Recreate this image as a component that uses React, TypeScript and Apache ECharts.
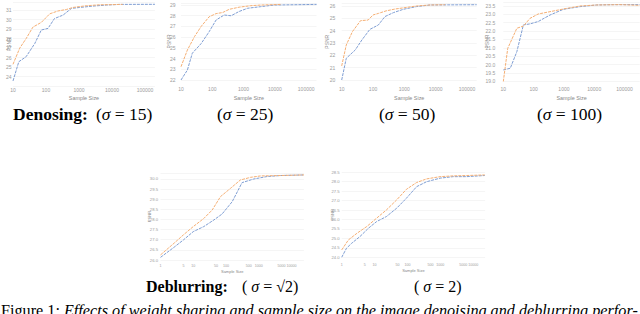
import React, { useEffect, useRef } from "react";
import * as echarts from "echarts";

// ---- Data (sample size, PSNR) ----
// Denoising sigma = 15
const d15BlueN = [10, 15, 25, 46, 72, 115, 180, 330, 590, 1050, 2600, 6800, 17000, 200000];
const d15BlueV = [23.55, 25.57, 26.1, 27.5, 28.9, 29.07, 30.1, 30.47, 31.17, 31.27, 31.41, 31.52, 31.59, 31.6];
const d15OrangeN = [10, 16, 25, 40, 72, 130, 230, 420, 660, 1660, 4300, 21000];
const d15OrangeV = [25.3, 27.0, 28.0, 29.2, 29.7, 30.6, 30.9, 31.06, 31.27, 31.45, 31.55, 31.59];
// Denoising sigma = 25
const d25BlueN = [10, 16, 23, 44, 79, 132, 240, 400, 720, 1350, 3550, 9550, 215000];
const d25BlueV = [22.0, 22.93, 24.5, 25.4, 26.5, 27.6, 28.07, 28.0, 28.4, 28.7, 28.85, 29.0, 29.06];
const d25OrangeN = [10, 16, 27, 44, 79, 132, 214, 347, 720, 1700, 3550, 15500];
const d25OrangeV = [23.24, 24.8, 26.05, 27.0, 27.9, 28.2, 28.3, 28.6, 28.8, 28.94, 29.0, 29.06];
// Denoising sigma = 50
const d50BlueN = [10, 14, 27, 44, 79, 148, 240, 447, 933, 2455, 6607, 204000];
const d50BlueV = [20.0, 21.76, 22.43, 23.24, 24.1, 24.46, 25.14, 25.46, 25.73, 25.95, 26.08, 26.1];
const d50OrangeN = [10, 14, 22, 40, 70, 100, 150, 260, 500, 950, 2455, 6607, 20000];
const d50OrangeV = [21.14, 22.84, 23.92, 24.81, 24.86, 25.27, 25.4, 25.6, 25.75, 25.85, 26.0, 26.08, 26.1];
// Denoising sigma = 100
const d100BlueN = [10, 17, 28, 46, 76, 141, 347, 955, 3388, 12000, 42700, 316000];
const d100BlueV = [19.68, 19.78, 20.77, 22.37, 22.43, 22.57, 22.96, 23.3, 23.46, 23.56, 23.58, 23.58];
const d100OrangeN = [10, 14, 28, 46, 76, 141, 347, 955, 3388, 12000, 70800, 316000];
const d100OrangeV = [18.98, 20.97, 22.17, 22.3, 22.76, 23.02, 23.16, 23.32, 23.5, 23.56, 23.58, 23.54];
// Deblurring sigma = sqrt(2)
const bsBlueN = [1, 2.6, 5, 10, 21, 43, 76, 155, 310, 710, 1800, 4600, 24000];
const bsBlueV = [26.13, 26.63, 26.99, 27.4, 27.65, 27.98, 28.27, 28.88, 29.82, 30.0, 30.12, 30.17, 30.2];
const bsOrangeN = [1, 2.6, 5, 10, 21, 38, 68, 138, 275, 560, 1120, 4600, 24000];
const bsOrangeV = [26.25, 26.83, 27.24, 27.65, 28.05, 28.47, 29.13, 29.54, 29.95, 30.08, 30.15, 30.17, 30.2];
// Deblurring sigma = 2
const b2BlueN = [1, 1.4, 2, 3.6, 6.5, 11.5, 23, 47, 93, 190, 380, 980, 2450, 6300, 22400];
const b2BlueV = [24.0, 24.48, 24.74, 25.1, 25.54, 25.89, 26.16, 26.6, 27.13, 27.74, 28.0, 28.19, 28.27, 28.27, 28.33];
const b2OrangeN = [1, 1.6, 2.9, 5.8, 11.5, 23, 47, 93, 190, 380, 980, 2450, 6300, 22400];
const b2OrangeV = [24.39, 24.92, 25.27, 25.63, 26.07, 26.51, 27.04, 27.6, 27.96, 28.15, 28.27, 28.31, 28.33, 28.36];

// tick labels
const denoiseXTicks = [10, 100, 1000, 10000, 100000];
const deblurXTicks = [1, 5, 10, 50, 100, 500, 1000, 5000, 10000];

const BLUE = "#7F9ED3";
const ORANGE = "#F5AF74";
const SANS = "Liberation Sans, Arial, sans-serif";
const SERIF = "Liberation Serif, Times New Roman, serif";
const LABEL = "#9c9c9c";

type Cfg = {
  left: number; top: number; width: number; height: number;
  xMin: number; xMax: number; xTicks: number[]; xFont: number; yFont: number;
  yMin: number; yMax: number; yInt: number; yDec: number;
  hideYMin: boolean; hideYMax: boolean;
  yLabelMargin: number; xLabelMargin: number; yNameGap: number; xNameGap: number;
  bN: number[]; bV: number[]; oN: number[]; oV: number[];
};

const charts: Cfg[] = [
  { left: 13, top: 2.4, width: 141.9, height: 83.8, xMin: 1, xMax: 5.3, xTicks: denoiseXTicks, xFont: 5, yFont: 5,
    yMin: 23, yMax: 31.8, yInt: 1, yDec: 0, hideYMin: true, hideYMax: true,
    yLabelMargin: 1.5, xLabelMargin: 1, yNameGap: 2, xNameGap: 9,
    bN: d15BlueN, bV: d15BlueV, oN: d15OrangeN, oV: d15OrangeV },
  { left: 181, top: 2.9, width: 135.5, height: 77.1, xMin: 1, xMax: 5.33, xTicks: denoiseXTicks, xFont: 5, yFont: 5,
    yMin: 22, yMax: 29.2, yInt: 1, yDec: 0, hideYMin: false, hideYMax: true,
    yLabelMargin: 5.5, xLabelMargin: 6, yNameGap: 10, xNameGap: 15.5,
    bN: d25BlueN, bV: d25BlueV, oN: d25OrangeN, oV: d25OrangeV },
  { left: 341.7, top: 3.5, width: 135, height: 76.5, xMin: 1, xMax: 5.31, xTicks: denoiseXTicks, xFont: 5, yFont: 5,
    yMin: 20, yMax: 26.2, yInt: 1, yDec: 0, hideYMin: false, hideYMax: true,
    yLabelMargin: 6.5, xLabelMargin: 6, yNameGap: 12, xNameGap: 15.5,
    bN: d50BlueN, bV: d50BlueV, oN: d50OrangeN, oV: d50OrangeV },
  { left: 503.3, top: 1.8, width: 136.4, height: 79.5, xMin: 1, xMax: 5.5, xTicks: denoiseXTicks, xFont: 5, yFont: 5,
    yMin: 19, yMax: 23.75, yInt: 0.5, yDec: 1, hideYMin: false, hideYMax: true,
    yLabelMargin: 8, xLabelMargin: 5, yNameGap: 13.5, xNameGap: 14,
    bN: d100BlueN, bV: d100BlueV, oN: d100OrangeN, oV: d100OrangeV },
  { left: 160.5, top: 172.9, width: 143.4, height: 87.1, xMin: 0, xMax: 4.38, xTicks: deblurXTicks, xFont: 3.6, yFont: 4.2,
    yMin: 26, yMax: 30.3, yInt: 0.5, yDec: 1, hideYMin: false, hideYMax: true,
    yLabelMargin: 2.5, xLabelMargin: 4, yNameGap: 9, xNameGap: 9,
    bN: bsBlueN, bV: bsBlueV, oN: bsOrangeN, oV: bsOrangeV },
  { left: 341.7, top: 172.3, width: 143.4, height: 85, xMin: 0, xMax: 4.36, xTicks: deblurXTicks, xFont: 3.6, yFont: 4.2,
    yMin: 24, yMax: 28.5, yInt: 0.5, yDec: 1, hideYMin: false, hideYMax: false,
    yLabelMargin: 2, xLabelMargin: 6, yNameGap: 7.5, xNameGap: 11,
    bN: b2BlueN, bV: b2BlueV, oN: b2OrangeN, oV: b2OrangeV },
];

function rich(size: number) {
  return { i: { fontStyle: "italic", fontFamily: SERIF, fontSize: size, fill: "#000" } };
}

function buildOption() {
  const grid: any[] = [];
  const xAxis: any[] = [];
  const yAxis: any[] = [];
  const series: any[] = [];
  charts.forEach((c, i) => {
    grid.push({ left: c.left, top: c.top, width: c.width, height: c.height, containLabel: false });
    xAxis.push({
      type: "value", gridIndex: i, min: c.xMin, max: c.xMax,
      name: "Sample Size", nameLocation: "middle", nameGap: c.xNameGap, nameMoveOverlap: false,
      nameTextStyle: { fontSize: c.xFont + 0.4, color: "#888", fontFamily: SANS },
      axisLine: { show: false }, axisTick: { show: false }, splitLine: { show: false },
      axisLabel: {
        fontSize: c.xFont, color: LABEL, fontFamily: SANS, margin: c.xLabelMargin,
        interval: 0, hideOverlap: false,
        customValues: c.xTicks.map((t) => Math.log10(t)),
        formatter: (v: number) => String(Math.round(Math.pow(10, v))),
      },
    });
    yAxis.push({
      type: "value", gridIndex: i, min: c.yMin, max: c.yMax, interval: c.yInt,
      name: "PSNR", nameLocation: "middle", nameGap: c.yNameGap, nameRotate: 90, nameMoveOverlap: false,
      nameTextStyle: { fontSize: c.yFont, color: "#888", fontFamily: SANS },
      axisLine: { show: false }, axisTick: { show: false },
      splitLine: { show: true, lineStyle: { color: "#eeeeee", width: 0.6 } },
      axisLabel: {
        fontSize: c.yFont, color: LABEL, fontFamily: SANS, margin: c.yLabelMargin,
        showMinLabel: !c.hideYMin, showMaxLabel: !c.hideYMax,
        formatter: (v: number) => v.toFixed(c.yDec),
      },
    });
    series.push({
      type: "line", xAxisIndex: i, yAxisIndex: i, showSymbol: false, silent: true,
      data: c.bN.map((n, k) => [Math.log10(n), c.bV[k]]),
      lineStyle: { color: BLUE, width: 1, type: [3, 1] },
    });
    series.push({
      type: "line", xAxisIndex: i, yAxisIndex: i, showSymbol: false, silent: true,
      data: c.oN.map((n, k) => [Math.log10(n), c.oV[k]]),
      lineStyle: { color: ORANGE, width: 1, type: [3, 1] },
    });
  });

  const txt = (x: number, y: number, text: string, size: number, extra: any = {}) => ({
    type: "text", x, y, silent: true,
    style: {
      text, fontFamily: SERIF, fontSize: size, fill: "#000",
      textVerticalAlign: "middle", rich: rich(size), ...extra,
    },
  });

  const graphic = [
    txt(13, 114, "Denosing:", 17.5, { fontWeight: "bold" }),
    txt(96, 114, "({i|σ} = 15)", 17.5),
    txt(217, 114, "({i|σ} = 25)", 17.5),
    txt(379, 114, "({i|σ} = 50)", 17.5),
    txt(537, 114, "({i|σ} = 100)", 17.5),
    txt(146, 286, "Deblurring:", 16, { fontWeight: "bold" }),
    txt(242, 286, "( {i|σ} = √2)", 16),
    txt(414, 286, "( {i|σ} = 2)", 16),
    {
      type: "text", x: 1, y: 303, silent: true,
      style: {
        text: "Figure 1: {i|Effects of weight sharing and sample size on the image denoising and deblurring perfor-}",
        fontFamily: SERIF, fontSize: 16.2, fill: "#000", textVerticalAlign: "top", rich: rich(16.2),
      },
    },
  ];

  return {
    animation: false,
    backgroundColor: "#ffffff",
    grid, xAxis, yAxis, series, graphic,
  };
}

export default function App() {
  const ref = useRef<HTMLDivElement>(null);
  useEffect(() => {
    if (!ref.current) return;
    const chart = echarts.init(ref.current, null, { renderer: "svg" });
    chart.setOption(buildOption() as any);
    return () => chart.dispose();
  }, []);
  return (
    <div
      ref={ref}
      style={{ position: "fixed", left: 0, top: 0, width: 640, height: 314, background: "#fff" }}
    />
  );
}
